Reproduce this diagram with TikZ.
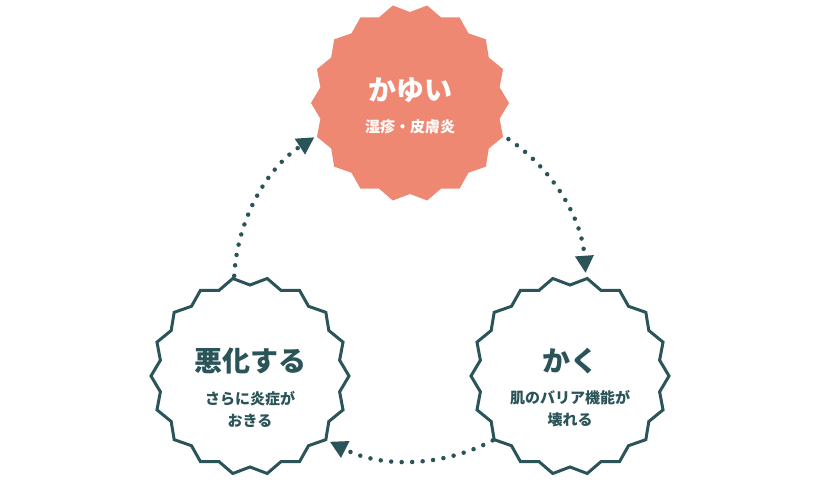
\documentclass[tikz,border=0pt]{standalone}
\usepackage{fontspec}
\setmainfont{Noto Sans CJK JP}
\usetikzlibrary{arrows.meta}
\definecolor{salmonc}{HTML}{EF8872}
\definecolor{darkteal}{HTML}{2B5459}
\tikzset{
  burstfill/.style={fill=salmonc, draw=none},
  burstline/.style={fill=white, draw=darkteal, line width=3pt, line join=miter},
  holder/.style={circle, minimum size=198pt, inner sep=0pt},
  titletext/.style={font=\fontsize{28}{32}\selectfont\bfseries},
  subtext/.style={font=\fontsize{15}{22}\selectfont\bfseries, align=center},
  cyc/.style={draw=darkteal, line width=4.5pt, line cap=round, dash pattern=on 0pt off 10.5pt,
    -{Triangle[length=17pt,width=19pt,line width=0pt]}},
}
\newcommand\burstpath[2]{plot[samples at={0,...,35}, variable=\k]
  ({#1+ifthenelse(mod(\k,2)==0,99,91)*cos(10*\k)},{#2+ifthenelse(mod(\k,2)==0,99,91)*sin(10*\k)}) -- cycle}
\begin{document}
\begin{tikzpicture}[x=1pt,y=1pt]
\useasboundingbox (0,0) rectangle (820,-486);
% stars
\path[burstfill] \burstpath{410}{-103};
\path[burstline] \burstpath{250}{-376};
\path[burstline] \burstpath{570}{-376};
\node[holder] (itch) at (410,-103) {};
\node[holder] (worse) at (250,-376) {};
\node[holder] (scratch) at (570,-376) {};
% texts
\node[titletext, text=white] (t1) at (410,-90) {かゆい};
\node[subtext, text=white] (s1) at (410,-127) {湿疹・皮膚炎};
\node[titletext, text=darkteal] (t2) at (250,-361) {悪化する};
\node[subtext, text=darkteal] (s2) at (250,-409) {さらに炎症が\\おきる};
\node[titletext, text=darkteal] (t3) at (570,-361) {かく};
\node[subtext, text=darkteal] (s3) at (570,-409) {肌のバリア機能が\\壊れる};
% cycle arrows
\coordinate (ctr) at (410,-285);
\draw[cyc] ([shift={(56:176)}]ctr) arc[start angle=56, end angle=4, radius=176];
\draw[cyc] ([shift={(-62:176)}]ctr) arc[start angle=-62, end angle=-117, radius=176];
\draw[cyc] ([shift={(177:176)}]ctr) arc[start angle=177, end angle=123, radius=176];
\end{tikzpicture}
\end{document}
